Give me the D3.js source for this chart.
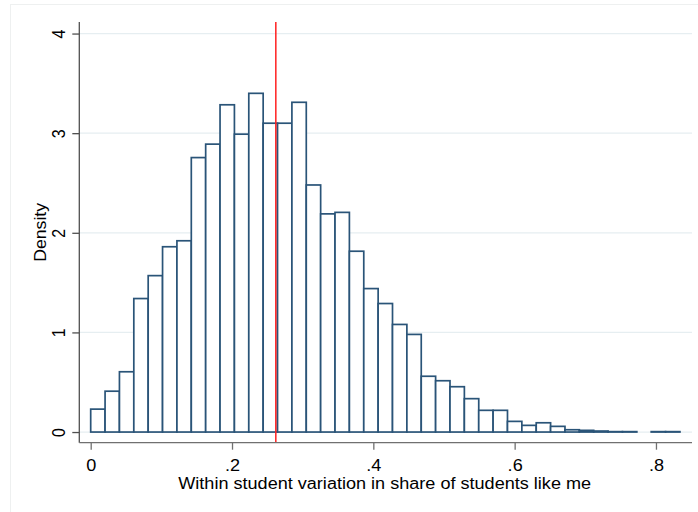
<!DOCTYPE html>
<html>
<head>
<meta charset="utf-8">
<script src="https://cdn.jsdelivr.net/npm/d3@7"></script>
<style>
  html, body { margin: 0; padding: 0; background: #fff; }
  svg { display: block; font-family: "Liberation Sans", Arial, sans-serif; }
</style>
</head>
<body>
<svg id="chart" width="698" height="512"></svg>
<script>
// Histogram of within-student variation (density scale), 41 equal-width bins from 0
const binStart = 0;
const binWidth = 0.02034;
const densities = [
  0.23, 0.41, 0.605, 1.34, 1.57, 1.86, 1.92, 2.755, 2.89, 3.285,
  2.99, 3.40, 3.10, 3.10, 3.31, 2.48, 2.19, 2.205, 1.815, 1.44,
  1.29, 1.08, 0.98, 0.56, 0.515, 0.455, 0.335, 0.218, 0.218, 0.107,
  0.067, 0.093, 0.057, 0.023, 0.017, 0.010, 0.004, 0.004, 0, 0.004,
  0.004
];
const meanValue = 0.262;            // vertical reference line
const xTicks = [0, 0.2, 0.4, 0.6, 0.8];
const xTickLabels = ["0", ".2", ".4", ".6", ".8"];
const yTicks = [0, 1, 2, 3, 4];
const yTickLabels = ["0", "1", "2", "3", "4"];
const xTitle = "Within student variation in share of students like me";
const yTitle = "Density";

const bins = densities.map((d, i) => ({
  x0: binStart + i * binWidth,
  x1: binStart + (i + 1) * binWidth,
  density: d
}));

const svg = d3.select("#chart");

// plot region
const plotLeft = 79.3, plotRight = 692, plotTop = 22, plotBottom = 442.7;
const textStretch = 1.13;   // text glyphs are set slightly wide

const x = d3.scaleLinear().domain([-0.01613, 0.8510]).range([plotLeft, plotRight]);
const y = d3.scaleLinear().domain([-0.107, 4.116]).range([plotBottom, plotTop]);

// faint outer frame of the graph region
svg.append("rect")
  .attr("x", 10.5).attr("y", 4.5)
  .attr("width", 700).attr("height", 520)
  .attr("fill", "none")
  .attr("stroke", "#eef0f0")
  .attr("stroke-width", 1);

// horizontal grid lines
svg.append("g")
  .selectAll("line")
  .data(yTicks)
  .join("line")
  .attr("x1", plotLeft).attr("x2", plotRight)
  .attr("y1", d => y(d)).attr("y2", d => y(d))
  .attr("stroke", "#e6eef1")
  .attr("stroke-width", 1.2);

// bars
svg.append("g")
  .selectAll("rect")
  .data(bins.filter(b => b.density > 0))
  .join("rect")
  .attr("x", d => x(d.x0))
  .attr("width", d => x(d.x1) - x(d.x0))
  .attr("y", d => y(d.density))
  .attr("height", d => y(0) - y(d.density))
  .attr("fill", "#ffffff")
  .attr("stroke", "#2a5478")
  .attr("stroke-width", 1.7);

// reference line
svg.append("line")
  .attr("x1", x(meanValue)).attr("x2", x(meanValue))
  .attr("y1", plotTop).attr("y2", plotBottom)
  .attr("stroke", "#ff2020")
  .attr("stroke-width", 1.5);

// y axis
const yAxis = d3.axisLeft(y)
  .tickValues(yTicks)
  .tickFormat((d, i) => yTickLabels[i])
  .tickSize(7)
  .tickSizeOuter(0)
  .tickPadding(7);
const gy = svg.append("g").attr("transform", `translate(${plotLeft},0)`).call(yAxis);
gy.select(".domain").attr("stroke", "#505050").attr("stroke-width", 1.3)
  .attr("d", `M0,${plotTop}V${plotBottom}`);
gy.selectAll(".tick line").attr("stroke", "#505050").attr("stroke-width", 1.3);
gy.selectAll(".tick text")
  .attr("font-size", 16)
  .attr("fill", "#000")
  .attr("x", null)
  .attr("text-anchor", "middle")
  .attr("transform", `translate(-14.5,0) rotate(-90) scale(1,${textStretch})`)
  .attr("y", 0)
  .attr("dy", "0");

// x axis
const xAxis = d3.axisBottom(x)
  .tickValues(xTicks)
  .tickFormat((d, i) => xTickLabels[i])
  .tickSize(7)
  .tickSizeOuter(0)
  .tickPadding(6);
const gx = svg.append("g").attr("transform", `translate(0,${plotBottom})`).call(xAxis);
gx.select(".domain").attr("stroke", "#707070").attr("stroke-width", 1.3)
  .attr("d", `M${plotLeft},0H${plotRight}`);
gx.selectAll(".tick line").attr("stroke", "#707070").attr("stroke-width", 1.3);
gx.selectAll(".tick text")
  .attr("font-size", 16)
  .attr("fill", "#000")
  .attr("dy", null)
  .attr("y", 0)
  .attr("transform", `translate(0,28.5) scale(${textStretch},1)`);

// axis titles
svg.append("text")
  .attr("transform", `translate(${(plotLeft + plotRight) / 2 - 1},488.5) scale(${textStretch},1)`)
  .attr("text-anchor", "middle")
  .attr("font-size", 16)
  .attr("fill", "#000")
  .text(xTitle);

svg.append("text")
  .attr("transform", `translate(46,${(plotTop + plotBottom) / 2}) rotate(-90) scale(1.04,1)`)
  .attr("text-anchor", "middle")
  .attr("font-size", 17)
  .attr("fill", "#000")
  .text(yTitle);
</script>
</body>
</html>
